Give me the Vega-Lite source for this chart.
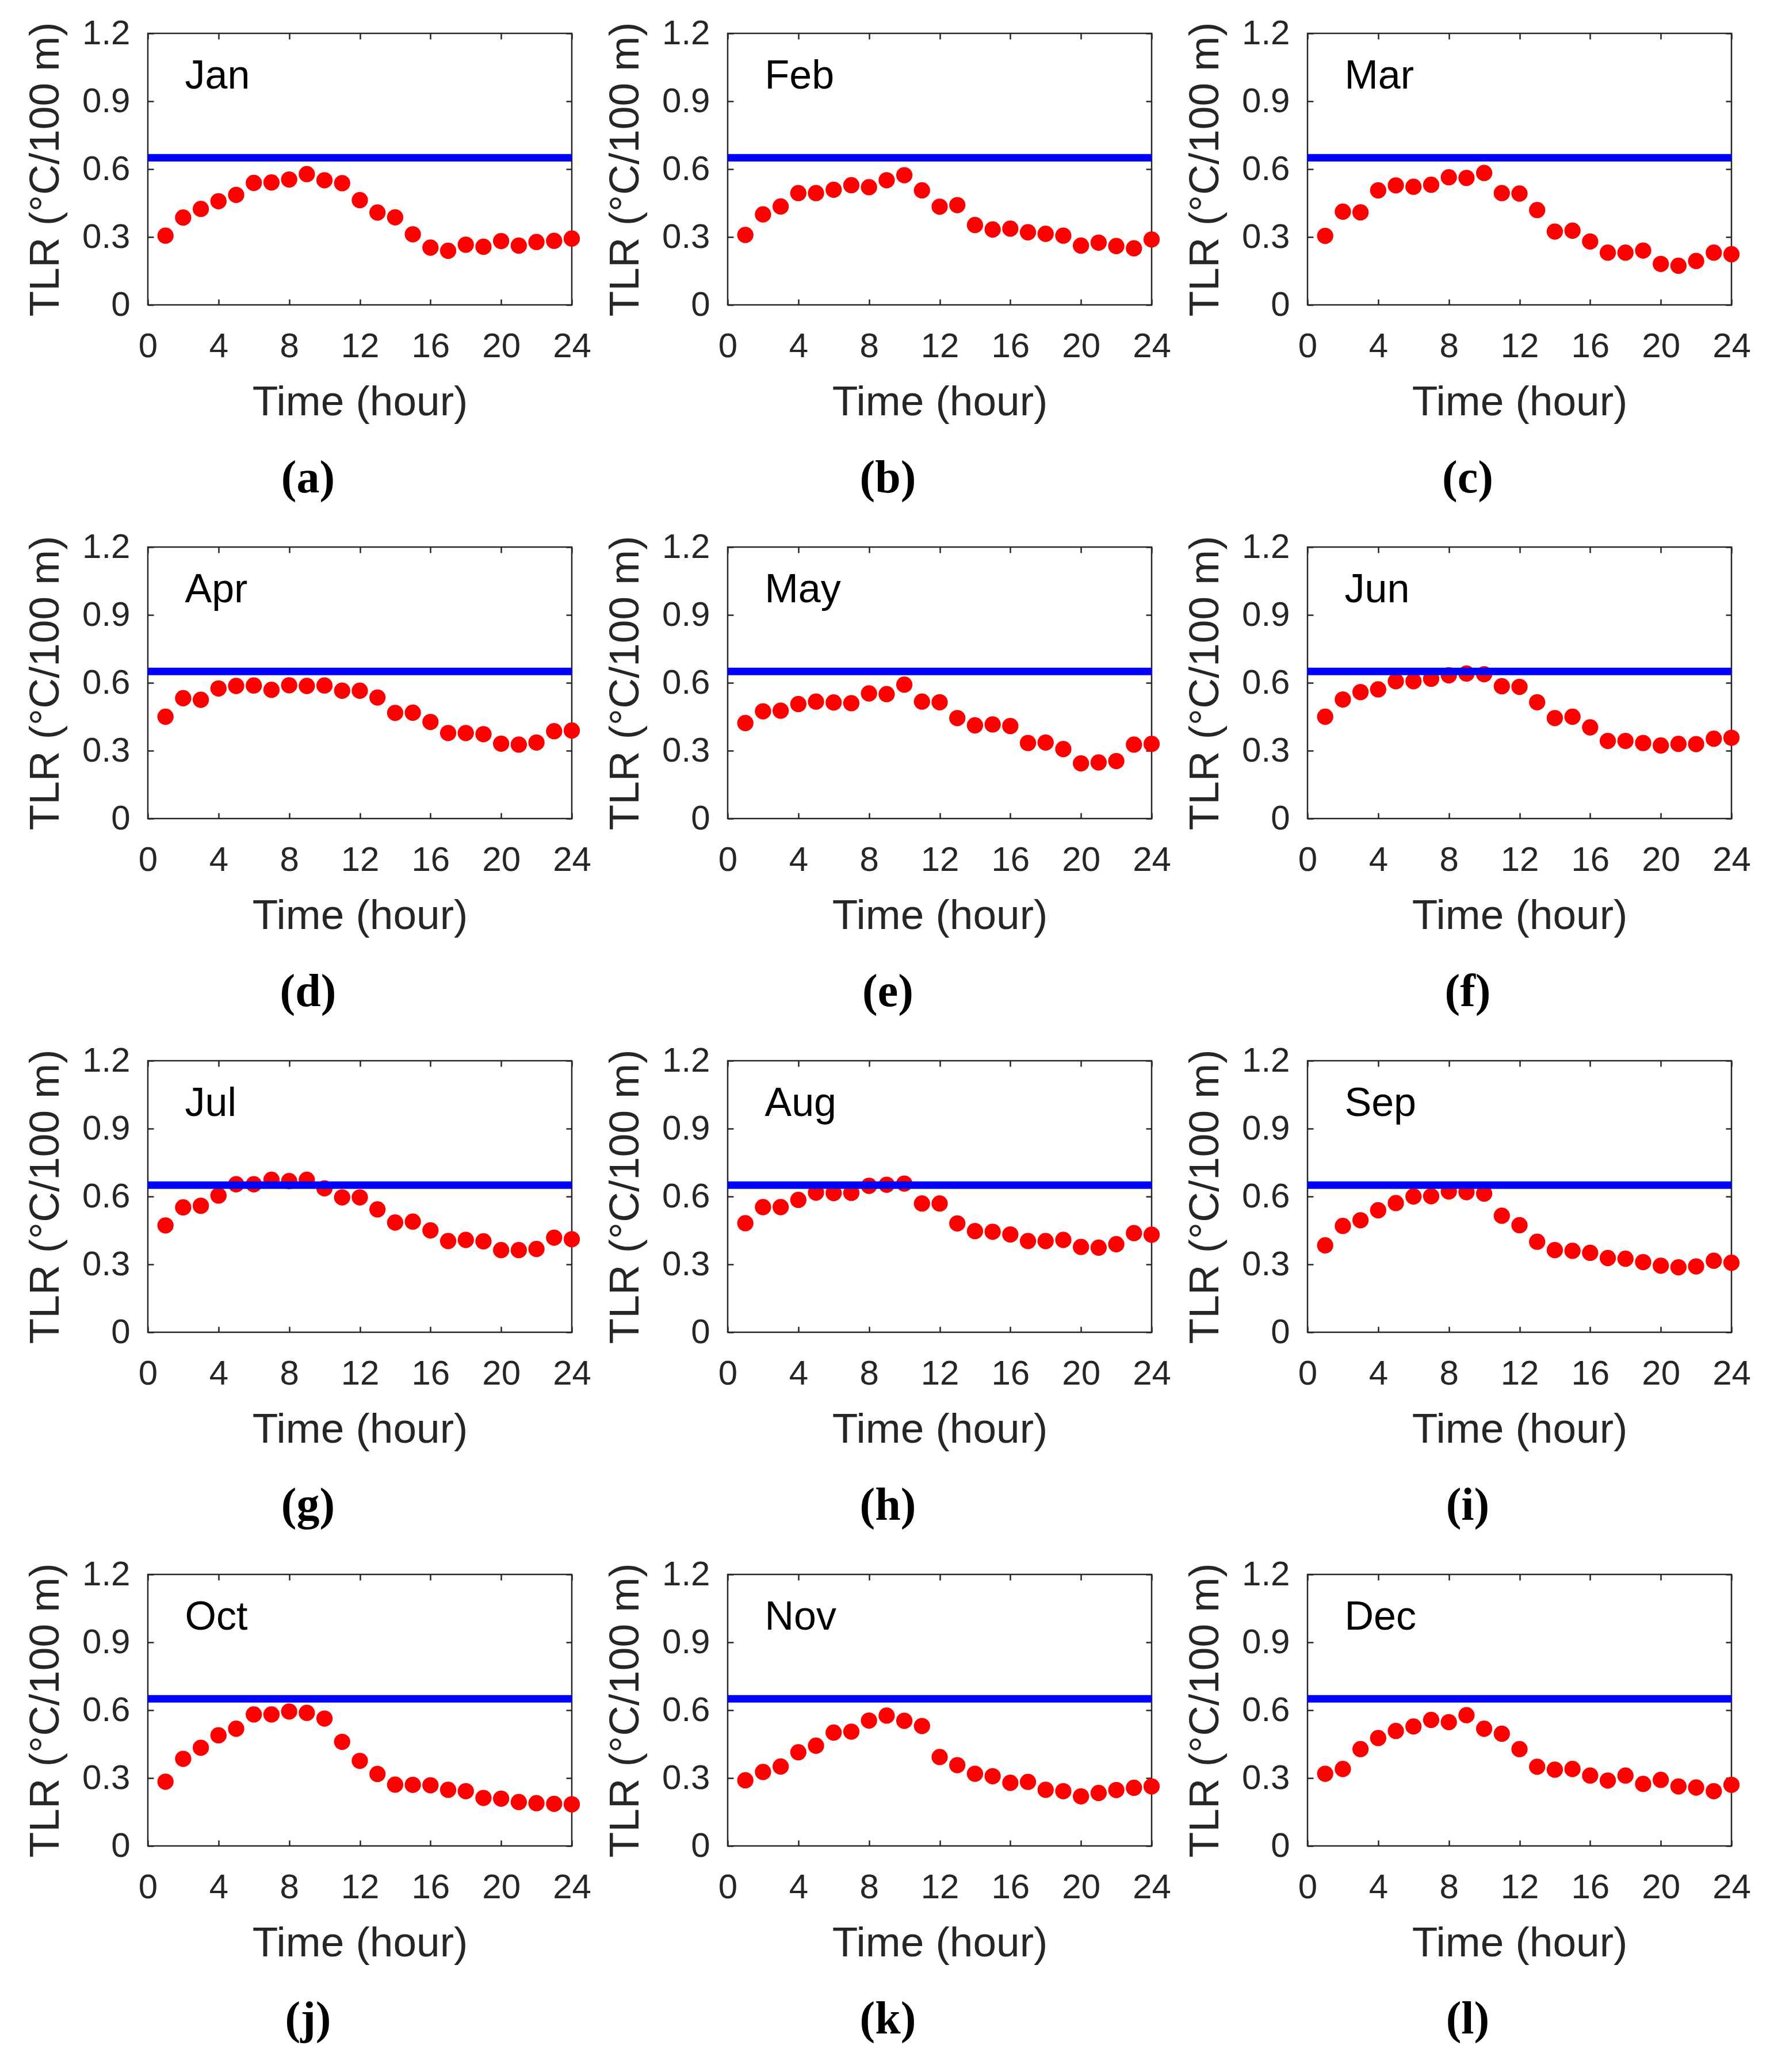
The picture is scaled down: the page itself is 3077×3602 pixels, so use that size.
{
  "$schema": "https://vega.github.io/schema/vega-lite/v6.json",
  "background": "white",
  "padding": {"left": 42, "top": 26, "right": 10, "bottom": 10},
  "datasets": {
    "tlr": [
      {"month": "Jan", "hour": 1, "tlr": 0.306}, {"month": "Jan", "hour": 2, "tlr": 0.386}, {"month": "Jan", "hour": 3, "tlr": 0.424}, {"month": "Jan", "hour": 4, "tlr": 0.458},
      {"month": "Jan", "hour": 5, "tlr": 0.486}, {"month": "Jan", "hour": 6, "tlr": 0.539}, {"month": "Jan", "hour": 7, "tlr": 0.541}, {"month": "Jan", "hour": 8, "tlr": 0.554},
      {"month": "Jan", "hour": 9, "tlr": 0.578}, {"month": "Jan", "hour": 10, "tlr": 0.551}, {"month": "Jan", "hour": 11, "tlr": 0.538}, {"month": "Jan", "hour": 12, "tlr": 0.463},
      {"month": "Jan", "hour": 13, "tlr": 0.408}, {"month": "Jan", "hour": 14, "tlr": 0.387}, {"month": "Jan", "hour": 15, "tlr": 0.312}, {"month": "Jan", "hour": 16, "tlr": 0.253},
      {"month": "Jan", "hour": 17, "tlr": 0.239}, {"month": "Jan", "hour": 18, "tlr": 0.266}, {"month": "Jan", "hour": 19, "tlr": 0.257}, {"month": "Jan", "hour": 20, "tlr": 0.282},
      {"month": "Jan", "hour": 21, "tlr": 0.262}, {"month": "Jan", "hour": 22, "tlr": 0.278}, {"month": "Jan", "hour": 23, "tlr": 0.283}, {"month": "Jan", "hour": 24, "tlr": 0.293},
      {"month": "Feb", "hour": 1, "tlr": 0.309}, {"month": "Feb", "hour": 2, "tlr": 0.400}, {"month": "Feb", "hour": 3, "tlr": 0.435}, {"month": "Feb", "hour": 4, "tlr": 0.494},
      {"month": "Feb", "hour": 5, "tlr": 0.494}, {"month": "Feb", "hour": 6, "tlr": 0.509}, {"month": "Feb", "hour": 7, "tlr": 0.529}, {"month": "Feb", "hour": 8, "tlr": 0.520},
      {"month": "Feb", "hour": 9, "tlr": 0.551}, {"month": "Feb", "hour": 10, "tlr": 0.573}, {"month": "Feb", "hour": 11, "tlr": 0.506}, {"month": "Feb", "hour": 12, "tlr": 0.434},
      {"month": "Feb", "hour": 13, "tlr": 0.441}, {"month": "Feb", "hour": 14, "tlr": 0.353}, {"month": "Feb", "hour": 15, "tlr": 0.333}, {"month": "Feb", "hour": 16, "tlr": 0.337},
      {"month": "Feb", "hour": 17, "tlr": 0.321}, {"month": "Feb", "hour": 18, "tlr": 0.314}, {"month": "Feb", "hour": 19, "tlr": 0.306}, {"month": "Feb", "hour": 20, "tlr": 0.262},
      {"month": "Feb", "hour": 21, "tlr": 0.275}, {"month": "Feb", "hour": 22, "tlr": 0.260}, {"month": "Feb", "hour": 23, "tlr": 0.250}, {"month": "Feb", "hour": 24, "tlr": 0.289},
      {"month": "Mar", "hour": 1, "tlr": 0.305}, {"month": "Mar", "hour": 2, "tlr": 0.412}, {"month": "Mar", "hour": 3, "tlr": 0.409}, {"month": "Mar", "hour": 4, "tlr": 0.506},
      {"month": "Mar", "hour": 5, "tlr": 0.528}, {"month": "Mar", "hour": 6, "tlr": 0.522}, {"month": "Mar", "hour": 7, "tlr": 0.531}, {"month": "Mar", "hour": 8, "tlr": 0.564},
      {"month": "Mar", "hour": 9, "tlr": 0.561}, {"month": "Mar", "hour": 10, "tlr": 0.583}, {"month": "Mar", "hour": 11, "tlr": 0.494}, {"month": "Mar", "hour": 12, "tlr": 0.492},
      {"month": "Mar", "hour": 13, "tlr": 0.419}, {"month": "Mar", "hour": 14, "tlr": 0.324}, {"month": "Mar", "hour": 15, "tlr": 0.328}, {"month": "Mar", "hour": 16, "tlr": 0.280},
      {"month": "Mar", "hour": 17, "tlr": 0.231}, {"month": "Mar", "hour": 18, "tlr": 0.231}, {"month": "Mar", "hour": 19, "tlr": 0.240}, {"month": "Mar", "hour": 20, "tlr": 0.181},
      {"month": "Mar", "hour": 21, "tlr": 0.173}, {"month": "Mar", "hour": 22, "tlr": 0.194}, {"month": "Mar", "hour": 23, "tlr": 0.231}, {"month": "Mar", "hour": 24, "tlr": 0.224},
      {"month": "Apr", "hour": 1, "tlr": 0.450}, {"month": "Apr", "hour": 2, "tlr": 0.532}, {"month": "Apr", "hour": 3, "tlr": 0.525}, {"month": "Apr", "hour": 4, "tlr": 0.575},
      {"month": "Apr", "hour": 5, "tlr": 0.586}, {"month": "Apr", "hour": 6, "tlr": 0.588}, {"month": "Apr", "hour": 7, "tlr": 0.569}, {"month": "Apr", "hour": 8, "tlr": 0.589},
      {"month": "Apr", "hour": 9, "tlr": 0.586}, {"month": "Apr", "hour": 10, "tlr": 0.588}, {"month": "Apr", "hour": 11, "tlr": 0.565}, {"month": "Apr", "hour": 12, "tlr": 0.565},
      {"month": "Apr", "hour": 13, "tlr": 0.535}, {"month": "Apr", "hour": 14, "tlr": 0.467}, {"month": "Apr", "hour": 15, "tlr": 0.468}, {"month": "Apr", "hour": 16, "tlr": 0.427},
      {"month": "Apr", "hour": 17, "tlr": 0.378}, {"month": "Apr", "hour": 18, "tlr": 0.378}, {"month": "Apr", "hour": 19, "tlr": 0.373}, {"month": "Apr", "hour": 20, "tlr": 0.331},
      {"month": "Apr", "hour": 21, "tlr": 0.327}, {"month": "Apr", "hour": 22, "tlr": 0.336}, {"month": "Apr", "hour": 23, "tlr": 0.386}, {"month": "Apr", "hour": 24, "tlr": 0.389},
      {"month": "May", "hour": 1, "tlr": 0.422}, {"month": "May", "hour": 2, "tlr": 0.474}, {"month": "May", "hour": 3, "tlr": 0.477}, {"month": "May", "hour": 4, "tlr": 0.506},
      {"month": "May", "hour": 5, "tlr": 0.517}, {"month": "May", "hour": 6, "tlr": 0.513}, {"month": "May", "hour": 7, "tlr": 0.510}, {"month": "May", "hour": 8, "tlr": 0.553},
      {"month": "May", "hour": 9, "tlr": 0.550}, {"month": "May", "hour": 10, "tlr": 0.592}, {"month": "May", "hour": 11, "tlr": 0.517}, {"month": "May", "hour": 12, "tlr": 0.514},
      {"month": "May", "hour": 13, "tlr": 0.444}, {"month": "May", "hour": 14, "tlr": 0.412}, {"month": "May", "hour": 15, "tlr": 0.416}, {"month": "May", "hour": 16, "tlr": 0.409},
      {"month": "May", "hour": 17, "tlr": 0.334}, {"month": "May", "hour": 18, "tlr": 0.336}, {"month": "May", "hour": 19, "tlr": 0.307}, {"month": "May", "hour": 20, "tlr": 0.244},
      {"month": "May", "hour": 21, "tlr": 0.248}, {"month": "May", "hour": 22, "tlr": 0.254}, {"month": "May", "hour": 23, "tlr": 0.327}, {"month": "May", "hour": 24, "tlr": 0.330},
      {"month": "Jun", "hour": 1, "tlr": 0.450}, {"month": "Jun", "hour": 2, "tlr": 0.526}, {"month": "Jun", "hour": 3, "tlr": 0.559}, {"month": "Jun", "hour": 4, "tlr": 0.571},
      {"month": "Jun", "hour": 5, "tlr": 0.607}, {"month": "Jun", "hour": 6, "tlr": 0.607}, {"month": "Jun", "hour": 7, "tlr": 0.618}, {"month": "Jun", "hour": 8, "tlr": 0.633},
      {"month": "Jun", "hour": 9, "tlr": 0.641}, {"month": "Jun", "hour": 10, "tlr": 0.638}, {"month": "Jun", "hour": 11, "tlr": 0.585}, {"month": "Jun", "hour": 12, "tlr": 0.582},
      {"month": "Jun", "hour": 13, "tlr": 0.514}, {"month": "Jun", "hour": 14, "tlr": 0.444}, {"month": "Jun", "hour": 15, "tlr": 0.450}, {"month": "Jun", "hour": 16, "tlr": 0.403},
      {"month": "Jun", "hour": 17, "tlr": 0.343}, {"month": "Jun", "hour": 18, "tlr": 0.343}, {"month": "Jun", "hour": 19, "tlr": 0.334}, {"month": "Jun", "hour": 20, "tlr": 0.323},
      {"month": "Jun", "hour": 21, "tlr": 0.330}, {"month": "Jun", "hour": 22, "tlr": 0.329}, {"month": "Jun", "hour": 23, "tlr": 0.353}, {"month": "Jun", "hour": 24, "tlr": 0.357},
      {"month": "Jul", "hour": 1, "tlr": 0.472}, {"month": "Jul", "hour": 2, "tlr": 0.552}, {"month": "Jul", "hour": 3, "tlr": 0.559}, {"month": "Jul", "hour": 4, "tlr": 0.604},
      {"month": "Jul", "hour": 5, "tlr": 0.654}, {"month": "Jul", "hour": 6, "tlr": 0.654}, {"month": "Jul", "hour": 7, "tlr": 0.674}, {"month": "Jul", "hour": 8, "tlr": 0.668},
      {"month": "Jul", "hour": 9, "tlr": 0.674}, {"month": "Jul", "hour": 10, "tlr": 0.636}, {"month": "Jul", "hour": 11, "tlr": 0.596}, {"month": "Jul", "hour": 12, "tlr": 0.596},
      {"month": "Jul", "hour": 13, "tlr": 0.543}, {"month": "Jul", "hour": 14, "tlr": 0.485}, {"month": "Jul", "hour": 15, "tlr": 0.489}, {"month": "Jul", "hour": 16, "tlr": 0.450},
      {"month": "Jul", "hour": 17, "tlr": 0.403}, {"month": "Jul", "hour": 18, "tlr": 0.408}, {"month": "Jul", "hour": 19, "tlr": 0.402}, {"month": "Jul", "hour": 20, "tlr": 0.363},
      {"month": "Jul", "hour": 21, "tlr": 0.363}, {"month": "Jul", "hour": 22, "tlr": 0.368}, {"month": "Jul", "hour": 23, "tlr": 0.418}, {"month": "Jul", "hour": 24, "tlr": 0.411},
      {"month": "Aug", "hour": 1, "tlr": 0.482}, {"month": "Aug", "hour": 2, "tlr": 0.553}, {"month": "Aug", "hour": 3, "tlr": 0.553}, {"month": "Aug", "hour": 4, "tlr": 0.585},
      {"month": "Aug", "hour": 5, "tlr": 0.617}, {"month": "Aug", "hour": 6, "tlr": 0.615}, {"month": "Aug", "hour": 7, "tlr": 0.616}, {"month": "Aug", "hour": 8, "tlr": 0.647},
      {"month": "Aug", "hour": 9, "tlr": 0.652}, {"month": "Aug", "hour": 10, "tlr": 0.657}, {"month": "Aug", "hour": 11, "tlr": 0.569}, {"month": "Aug", "hour": 12, "tlr": 0.569},
      {"month": "Aug", "hour": 13, "tlr": 0.481}, {"month": "Aug", "hour": 14, "tlr": 0.447}, {"month": "Aug", "hour": 15, "tlr": 0.444}, {"month": "Aug", "hour": 16, "tlr": 0.432},
      {"month": "Aug", "hour": 17, "tlr": 0.403}, {"month": "Aug", "hour": 18, "tlr": 0.403}, {"month": "Aug", "hour": 19, "tlr": 0.408}, {"month": "Aug", "hour": 20, "tlr": 0.377},
      {"month": "Aug", "hour": 21, "tlr": 0.374}, {"month": "Aug", "hour": 22, "tlr": 0.389}, {"month": "Aug", "hour": 23, "tlr": 0.438}, {"month": "Aug", "hour": 24, "tlr": 0.431},
      {"month": "Sep", "hour": 1, "tlr": 0.384}, {"month": "Sep", "hour": 2, "tlr": 0.470}, {"month": "Sep", "hour": 3, "tlr": 0.495}, {"month": "Sep", "hour": 4, "tlr": 0.539},
      {"month": "Sep", "hour": 5, "tlr": 0.571}, {"month": "Sep", "hour": 6, "tlr": 0.600}, {"month": "Sep", "hour": 7, "tlr": 0.601}, {"month": "Sep", "hour": 8, "tlr": 0.622},
      {"month": "Sep", "hour": 9, "tlr": 0.619}, {"month": "Sep", "hour": 10, "tlr": 0.613}, {"month": "Sep", "hour": 11, "tlr": 0.515}, {"month": "Sep", "hour": 12, "tlr": 0.473},
      {"month": "Sep", "hour": 13, "tlr": 0.400}, {"month": "Sep", "hour": 14, "tlr": 0.363}, {"month": "Sep", "hour": 15, "tlr": 0.360}, {"month": "Sep", "hour": 16, "tlr": 0.351},
      {"month": "Sep", "hour": 17, "tlr": 0.328}, {"month": "Sep", "hour": 18, "tlr": 0.325}, {"month": "Sep", "hour": 19, "tlr": 0.310}, {"month": "Sep", "hour": 20, "tlr": 0.294},
      {"month": "Sep", "hour": 21, "tlr": 0.287}, {"month": "Sep", "hour": 22, "tlr": 0.291}, {"month": "Sep", "hour": 23, "tlr": 0.316}, {"month": "Sep", "hour": 24, "tlr": 0.307},
      {"month": "Oct", "hour": 1, "tlr": 0.284}, {"month": "Oct", "hour": 2, "tlr": 0.385}, {"month": "Oct", "hour": 3, "tlr": 0.434}, {"month": "Oct", "hour": 4, "tlr": 0.489},
      {"month": "Oct", "hour": 5, "tlr": 0.518}, {"month": "Oct", "hour": 6, "tlr": 0.581}, {"month": "Oct", "hour": 7, "tlr": 0.581}, {"month": "Oct", "hour": 8, "tlr": 0.594},
      {"month": "Oct", "hour": 9, "tlr": 0.588}, {"month": "Oct", "hour": 10, "tlr": 0.563}, {"month": "Oct", "hour": 11, "tlr": 0.460}, {"month": "Oct", "hour": 12, "tlr": 0.376},
      {"month": "Oct", "hour": 13, "tlr": 0.318}, {"month": "Oct", "hour": 14, "tlr": 0.271}, {"month": "Oct", "hour": 15, "tlr": 0.270}, {"month": "Oct", "hour": 16, "tlr": 0.268},
      {"month": "Oct", "hour": 17, "tlr": 0.248}, {"month": "Oct", "hour": 18, "tlr": 0.242}, {"month": "Oct", "hour": 19, "tlr": 0.212}, {"month": "Oct", "hour": 20, "tlr": 0.209},
      {"month": "Oct", "hour": 21, "tlr": 0.194}, {"month": "Oct", "hour": 22, "tlr": 0.189}, {"month": "Oct", "hour": 23, "tlr": 0.186}, {"month": "Oct", "hour": 24, "tlr": 0.184},
      {"month": "Nov", "hour": 1, "tlr": 0.290}, {"month": "Nov", "hour": 2, "tlr": 0.327}, {"month": "Nov", "hour": 3, "tlr": 0.351}, {"month": "Nov", "hour": 4, "tlr": 0.414},
      {"month": "Nov", "hour": 5, "tlr": 0.443}, {"month": "Nov", "hour": 6, "tlr": 0.501}, {"month": "Nov", "hour": 7, "tlr": 0.505}, {"month": "Nov", "hour": 8, "tlr": 0.554},
      {"month": "Nov", "hour": 9, "tlr": 0.576}, {"month": "Nov", "hour": 10, "tlr": 0.553}, {"month": "Nov", "hour": 11, "tlr": 0.530}, {"month": "Nov", "hour": 12, "tlr": 0.393},
      {"month": "Nov", "hour": 13, "tlr": 0.357}, {"month": "Nov", "hour": 14, "tlr": 0.319}, {"month": "Nov", "hour": 15, "tlr": 0.308}, {"month": "Nov", "hour": 16, "tlr": 0.279},
      {"month": "Nov", "hour": 17, "tlr": 0.283}, {"month": "Nov", "hour": 18, "tlr": 0.248}, {"month": "Nov", "hour": 19, "tlr": 0.242}, {"month": "Nov", "hour": 20, "tlr": 0.219},
      {"month": "Nov", "hour": 21, "tlr": 0.234}, {"month": "Nov", "hour": 22, "tlr": 0.247}, {"month": "Nov", "hour": 23, "tlr": 0.257}, {"month": "Nov", "hour": 24, "tlr": 0.263},
      {"month": "Dec", "hour": 1, "tlr": 0.319}, {"month": "Dec", "hour": 2, "tlr": 0.340}, {"month": "Dec", "hour": 3, "tlr": 0.428}, {"month": "Dec", "hour": 4, "tlr": 0.477},
      {"month": "Dec", "hour": 5, "tlr": 0.508}, {"month": "Dec", "hour": 6, "tlr": 0.528}, {"month": "Dec", "hour": 7, "tlr": 0.557}, {"month": "Dec", "hour": 8, "tlr": 0.547},
      {"month": "Dec", "hour": 9, "tlr": 0.578}, {"month": "Dec", "hour": 10, "tlr": 0.518}, {"month": "Dec", "hour": 11, "tlr": 0.496}, {"month": "Dec", "hour": 12, "tlr": 0.428},
      {"month": "Dec", "hour": 13, "tlr": 0.350}, {"month": "Dec", "hour": 14, "tlr": 0.337}, {"month": "Dec", "hour": 15, "tlr": 0.340}, {"month": "Dec", "hour": 16, "tlr": 0.311},
      {"month": "Dec", "hour": 17, "tlr": 0.289}, {"month": "Dec", "hour": 18, "tlr": 0.311}, {"month": "Dec", "hour": 19, "tlr": 0.274}, {"month": "Dec", "hour": 20, "tlr": 0.292},
      {"month": "Dec", "hour": 21, "tlr": 0.263}, {"month": "Dec", "hour": 22, "tlr": 0.258}, {"month": "Dec", "hour": 23, "tlr": 0.242}, {"month": "Dec", "hour": 24, "tlr": 0.270}
    ]
  },
  "data": {"name": "tlr"},
  "columns": 3,
  "spacing": {"row": 45, "column": 21},
  "concat": [
    {"title": "(a)", "transform": [{"filter": "datum.month == 'Jan'"}],
     "layer": [
      {"mark": "point", "encoding": {"x": {"field": "hour", "type": "quantitative", "scale": {"domain": [0, 24]}, "axis": {"values": [0, 4, 8, 12, 16, 20, 24], "title": "Time (hour)"}}, "y": {"field": "tlr", "type": "quantitative", "scale": {"domain": [0, 1.2]}, "axis": {"values": [0, 0.3, 0.6, 0.9, 1.2], "format": "~g", "title": "TLR (°C/100 m)"}}}},
      {"transform": [{"filter": "datum.hour == 1"}], "mark": "text", "encoding": {"x": {"datum": 2.1, "type": "quantitative", "axis": {"orient": "top", "values": [0, 4, 8, 12, 16, 20, 24], "labels": false, "title": null}}, "y": {"datum": 0.955, "type": "quantitative", "axis": null}, "text": {"field": "month"}}},
      {"transform": [{"filter": "datum.hour == 1"}], "mark": "rule", "encoding": {"y": {"datum": 0.65, "type": "quantitative", "axis": {"orient": "right", "values": [0, 0.3, 0.6, 0.9, 1.2], "labels": false, "title": null}}}}
     ],
     "resolve": {"axis": {"x": "independent", "y": "independent"}}},
    {"title": "(b)", "transform": [{"filter": "datum.month == 'Feb'"}],
     "layer": [
      {"mark": "point", "encoding": {"x": {"field": "hour", "type": "quantitative", "scale": {"domain": [0, 24]}, "axis": {"values": [0, 4, 8, 12, 16, 20, 24], "title": "Time (hour)"}}, "y": {"field": "tlr", "type": "quantitative", "scale": {"domain": [0, 1.2]}, "axis": {"values": [0, 0.3, 0.6, 0.9, 1.2], "format": "~g", "title": "TLR (°C/100 m)"}}}},
      {"transform": [{"filter": "datum.hour == 1"}], "mark": "text", "encoding": {"x": {"datum": 2.1, "type": "quantitative", "axis": {"orient": "top", "values": [0, 4, 8, 12, 16, 20, 24], "labels": false, "title": null}}, "y": {"datum": 0.955, "type": "quantitative", "axis": null}, "text": {"field": "month"}}},
      {"transform": [{"filter": "datum.hour == 1"}], "mark": "rule", "encoding": {"y": {"datum": 0.65, "type": "quantitative", "axis": {"orient": "right", "values": [0, 0.3, 0.6, 0.9, 1.2], "labels": false, "title": null}}}}
     ],
     "resolve": {"axis": {"x": "independent", "y": "independent"}}},
    {"title": "(c)", "transform": [{"filter": "datum.month == 'Mar'"}],
     "layer": [
      {"mark": "point", "encoding": {"x": {"field": "hour", "type": "quantitative", "scale": {"domain": [0, 24]}, "axis": {"values": [0, 4, 8, 12, 16, 20, 24], "title": "Time (hour)"}}, "y": {"field": "tlr", "type": "quantitative", "scale": {"domain": [0, 1.2]}, "axis": {"values": [0, 0.3, 0.6, 0.9, 1.2], "format": "~g", "title": "TLR (°C/100 m)"}}}},
      {"transform": [{"filter": "datum.hour == 1"}], "mark": "text", "encoding": {"x": {"datum": 2.1, "type": "quantitative", "axis": {"orient": "top", "values": [0, 4, 8, 12, 16, 20, 24], "labels": false, "title": null}}, "y": {"datum": 0.955, "type": "quantitative", "axis": null}, "text": {"field": "month"}}},
      {"transform": [{"filter": "datum.hour == 1"}], "mark": "rule", "encoding": {"y": {"datum": 0.65, "type": "quantitative", "axis": {"orient": "right", "values": [0, 0.3, 0.6, 0.9, 1.2], "labels": false, "title": null}}}}
     ],
     "resolve": {"axis": {"x": "independent", "y": "independent"}}},
    {"title": "(d)", "transform": [{"filter": "datum.month == 'Apr'"}],
     "layer": [
      {"mark": "point", "encoding": {"x": {"field": "hour", "type": "quantitative", "scale": {"domain": [0, 24]}, "axis": {"values": [0, 4, 8, 12, 16, 20, 24], "title": "Time (hour)"}}, "y": {"field": "tlr", "type": "quantitative", "scale": {"domain": [0, 1.2]}, "axis": {"values": [0, 0.3, 0.6, 0.9, 1.2], "format": "~g", "title": "TLR (°C/100 m)"}}}},
      {"transform": [{"filter": "datum.hour == 1"}], "mark": "text", "encoding": {"x": {"datum": 2.1, "type": "quantitative", "axis": {"orient": "top", "values": [0, 4, 8, 12, 16, 20, 24], "labels": false, "title": null}}, "y": {"datum": 0.955, "type": "quantitative", "axis": null}, "text": {"field": "month"}}},
      {"transform": [{"filter": "datum.hour == 1"}], "mark": "rule", "encoding": {"y": {"datum": 0.65, "type": "quantitative", "axis": {"orient": "right", "values": [0, 0.3, 0.6, 0.9, 1.2], "labels": false, "title": null}}}}
     ],
     "resolve": {"axis": {"x": "independent", "y": "independent"}}},
    {"title": "(e)", "transform": [{"filter": "datum.month == 'May'"}],
     "layer": [
      {"mark": "point", "encoding": {"x": {"field": "hour", "type": "quantitative", "scale": {"domain": [0, 24]}, "axis": {"values": [0, 4, 8, 12, 16, 20, 24], "title": "Time (hour)"}}, "y": {"field": "tlr", "type": "quantitative", "scale": {"domain": [0, 1.2]}, "axis": {"values": [0, 0.3, 0.6, 0.9, 1.2], "format": "~g", "title": "TLR (°C/100 m)"}}}},
      {"transform": [{"filter": "datum.hour == 1"}], "mark": "text", "encoding": {"x": {"datum": 2.1, "type": "quantitative", "axis": {"orient": "top", "values": [0, 4, 8, 12, 16, 20, 24], "labels": false, "title": null}}, "y": {"datum": 0.955, "type": "quantitative", "axis": null}, "text": {"field": "month"}}},
      {"transform": [{"filter": "datum.hour == 1"}], "mark": "rule", "encoding": {"y": {"datum": 0.65, "type": "quantitative", "axis": {"orient": "right", "values": [0, 0.3, 0.6, 0.9, 1.2], "labels": false, "title": null}}}}
     ],
     "resolve": {"axis": {"x": "independent", "y": "independent"}}},
    {"title": "(f)", "transform": [{"filter": "datum.month == 'Jun'"}],
     "layer": [
      {"mark": "point", "encoding": {"x": {"field": "hour", "type": "quantitative", "scale": {"domain": [0, 24]}, "axis": {"values": [0, 4, 8, 12, 16, 20, 24], "title": "Time (hour)"}}, "y": {"field": "tlr", "type": "quantitative", "scale": {"domain": [0, 1.2]}, "axis": {"values": [0, 0.3, 0.6, 0.9, 1.2], "format": "~g", "title": "TLR (°C/100 m)"}}}},
      {"transform": [{"filter": "datum.hour == 1"}], "mark": "text", "encoding": {"x": {"datum": 2.1, "type": "quantitative", "axis": {"orient": "top", "values": [0, 4, 8, 12, 16, 20, 24], "labels": false, "title": null}}, "y": {"datum": 0.955, "type": "quantitative", "axis": null}, "text": {"field": "month"}}},
      {"transform": [{"filter": "datum.hour == 1"}], "mark": "rule", "encoding": {"y": {"datum": 0.65, "type": "quantitative", "axis": {"orient": "right", "values": [0, 0.3, 0.6, 0.9, 1.2], "labels": false, "title": null}}}}
     ],
     "resolve": {"axis": {"x": "independent", "y": "independent"}}},
    {"title": "(g)", "transform": [{"filter": "datum.month == 'Jul'"}],
     "layer": [
      {"mark": "point", "encoding": {"x": {"field": "hour", "type": "quantitative", "scale": {"domain": [0, 24]}, "axis": {"values": [0, 4, 8, 12, 16, 20, 24], "title": "Time (hour)"}}, "y": {"field": "tlr", "type": "quantitative", "scale": {"domain": [0, 1.2]}, "axis": {"values": [0, 0.3, 0.6, 0.9, 1.2], "format": "~g", "title": "TLR (°C/100 m)"}}}},
      {"transform": [{"filter": "datum.hour == 1"}], "mark": "text", "encoding": {"x": {"datum": 2.1, "type": "quantitative", "axis": {"orient": "top", "values": [0, 4, 8, 12, 16, 20, 24], "labels": false, "title": null}}, "y": {"datum": 0.955, "type": "quantitative", "axis": null}, "text": {"field": "month"}}},
      {"transform": [{"filter": "datum.hour == 1"}], "mark": "rule", "encoding": {"y": {"datum": 0.65, "type": "quantitative", "axis": {"orient": "right", "values": [0, 0.3, 0.6, 0.9, 1.2], "labels": false, "title": null}}}}
     ],
     "resolve": {"axis": {"x": "independent", "y": "independent"}}},
    {"title": "(h)", "transform": [{"filter": "datum.month == 'Aug'"}],
     "layer": [
      {"mark": "point", "encoding": {"x": {"field": "hour", "type": "quantitative", "scale": {"domain": [0, 24]}, "axis": {"values": [0, 4, 8, 12, 16, 20, 24], "title": "Time (hour)"}}, "y": {"field": "tlr", "type": "quantitative", "scale": {"domain": [0, 1.2]}, "axis": {"values": [0, 0.3, 0.6, 0.9, 1.2], "format": "~g", "title": "TLR (°C/100 m)"}}}},
      {"transform": [{"filter": "datum.hour == 1"}], "mark": "text", "encoding": {"x": {"datum": 2.1, "type": "quantitative", "axis": {"orient": "top", "values": [0, 4, 8, 12, 16, 20, 24], "labels": false, "title": null}}, "y": {"datum": 0.955, "type": "quantitative", "axis": null}, "text": {"field": "month"}}},
      {"transform": [{"filter": "datum.hour == 1"}], "mark": "rule", "encoding": {"y": {"datum": 0.65, "type": "quantitative", "axis": {"orient": "right", "values": [0, 0.3, 0.6, 0.9, 1.2], "labels": false, "title": null}}}}
     ],
     "resolve": {"axis": {"x": "independent", "y": "independent"}}},
    {"title": "(i)", "transform": [{"filter": "datum.month == 'Sep'"}],
     "layer": [
      {"mark": "point", "encoding": {"x": {"field": "hour", "type": "quantitative", "scale": {"domain": [0, 24]}, "axis": {"values": [0, 4, 8, 12, 16, 20, 24], "title": "Time (hour)"}}, "y": {"field": "tlr", "type": "quantitative", "scale": {"domain": [0, 1.2]}, "axis": {"values": [0, 0.3, 0.6, 0.9, 1.2], "format": "~g", "title": "TLR (°C/100 m)"}}}},
      {"transform": [{"filter": "datum.hour == 1"}], "mark": "text", "encoding": {"x": {"datum": 2.1, "type": "quantitative", "axis": {"orient": "top", "values": [0, 4, 8, 12, 16, 20, 24], "labels": false, "title": null}}, "y": {"datum": 0.955, "type": "quantitative", "axis": null}, "text": {"field": "month"}}},
      {"transform": [{"filter": "datum.hour == 1"}], "mark": "rule", "encoding": {"y": {"datum": 0.65, "type": "quantitative", "axis": {"orient": "right", "values": [0, 0.3, 0.6, 0.9, 1.2], "labels": false, "title": null}}}}
     ],
     "resolve": {"axis": {"x": "independent", "y": "independent"}}},
    {"title": "(j)", "transform": [{"filter": "datum.month == 'Oct'"}],
     "layer": [
      {"mark": "point", "encoding": {"x": {"field": "hour", "type": "quantitative", "scale": {"domain": [0, 24]}, "axis": {"values": [0, 4, 8, 12, 16, 20, 24], "title": "Time (hour)"}}, "y": {"field": "tlr", "type": "quantitative", "scale": {"domain": [0, 1.2]}, "axis": {"values": [0, 0.3, 0.6, 0.9, 1.2], "format": "~g", "title": "TLR (°C/100 m)"}}}},
      {"transform": [{"filter": "datum.hour == 1"}], "mark": "text", "encoding": {"x": {"datum": 2.1, "type": "quantitative", "axis": {"orient": "top", "values": [0, 4, 8, 12, 16, 20, 24], "labels": false, "title": null}}, "y": {"datum": 0.955, "type": "quantitative", "axis": null}, "text": {"field": "month"}}},
      {"transform": [{"filter": "datum.hour == 1"}], "mark": "rule", "encoding": {"y": {"datum": 0.65, "type": "quantitative", "axis": {"orient": "right", "values": [0, 0.3, 0.6, 0.9, 1.2], "labels": false, "title": null}}}}
     ],
     "resolve": {"axis": {"x": "independent", "y": "independent"}}},
    {"title": "(k)", "transform": [{"filter": "datum.month == 'Nov'"}],
     "layer": [
      {"mark": "point", "encoding": {"x": {"field": "hour", "type": "quantitative", "scale": {"domain": [0, 24]}, "axis": {"values": [0, 4, 8, 12, 16, 20, 24], "title": "Time (hour)"}}, "y": {"field": "tlr", "type": "quantitative", "scale": {"domain": [0, 1.2]}, "axis": {"values": [0, 0.3, 0.6, 0.9, 1.2], "format": "~g", "title": "TLR (°C/100 m)"}}}},
      {"transform": [{"filter": "datum.hour == 1"}], "mark": "text", "encoding": {"x": {"datum": 2.1, "type": "quantitative", "axis": {"orient": "top", "values": [0, 4, 8, 12, 16, 20, 24], "labels": false, "title": null}}, "y": {"datum": 0.955, "type": "quantitative", "axis": null}, "text": {"field": "month"}}},
      {"transform": [{"filter": "datum.hour == 1"}], "mark": "rule", "encoding": {"y": {"datum": 0.65, "type": "quantitative", "axis": {"orient": "right", "values": [0, 0.3, 0.6, 0.9, 1.2], "labels": false, "title": null}}}}
     ],
     "resolve": {"axis": {"x": "independent", "y": "independent"}}},
    {"title": "(l)", "transform": [{"filter": "datum.month == 'Dec'"}],
     "layer": [
      {"mark": "point", "encoding": {"x": {"field": "hour", "type": "quantitative", "scale": {"domain": [0, 24]}, "axis": {"values": [0, 4, 8, 12, 16, 20, 24], "title": "Time (hour)"}}, "y": {"field": "tlr", "type": "quantitative", "scale": {"domain": [0, 1.2]}, "axis": {"values": [0, 0.3, 0.6, 0.9, 1.2], "format": "~g", "title": "TLR (°C/100 m)"}}}},
      {"transform": [{"filter": "datum.hour == 1"}], "mark": "text", "encoding": {"x": {"datum": 2.1, "type": "quantitative", "axis": {"orient": "top", "values": [0, 4, 8, 12, 16, 20, 24], "labels": false, "title": null}}, "y": {"datum": 0.955, "type": "quantitative", "axis": null}, "text": {"field": "month"}}},
      {"transform": [{"filter": "datum.hour == 1"}], "mark": "rule", "encoding": {"y": {"datum": 0.65, "type": "quantitative", "axis": {"orient": "right", "values": [0, 0.3, 0.6, 0.9, 1.2], "labels": false, "title": null}}}}
     ],
     "resolve": {"axis": {"x": "independent", "y": "independent"}}}
  ],
  "config": {
    "view": {"continuousWidth": 737, "continuousHeight": 472, "stroke": "#262626", "strokeWidth": 2.5, "fill": "white"},
    "point": {"filled": true, "color": "#FF0000", "size": 800, "opacity": 1},
    "rule": {"color": "#0000FF", "strokeWidth": 13},
    "text": {"font": "Liberation Sans", "fontSize": 70, "align": "left", "baseline": "alphabetic", "color": "#000000"},
    "title": {"font": "Liberation Serif", "fontSize": 80, "fontWeight": "bold", "orient": "bottom", "offset": 57, "color": "#000000", "anchor": "middle", "frame": "bounds"},
    "axis": {
      "domain": false, "grid": false, "ticks": true, "tickSize": -10, "tickWidth": 2.5, "tickColor": "#262626",
      "labelFont": "Liberation Sans", "labelFontSize": 60, "labelColor": "#262626", "labelFlush": false, "labelOverlap": false,
      "titleFont": "Liberation Sans", "titleFontSize": 73, "titleFontWeight": "normal", "titleColor": "#262626"
    },
    "axisBottom": {"labelPadding": 53, "titlePadding": 31},
    "axisLeft": {"labelPadding": 41, "titlePadding": 26}
  }
}
